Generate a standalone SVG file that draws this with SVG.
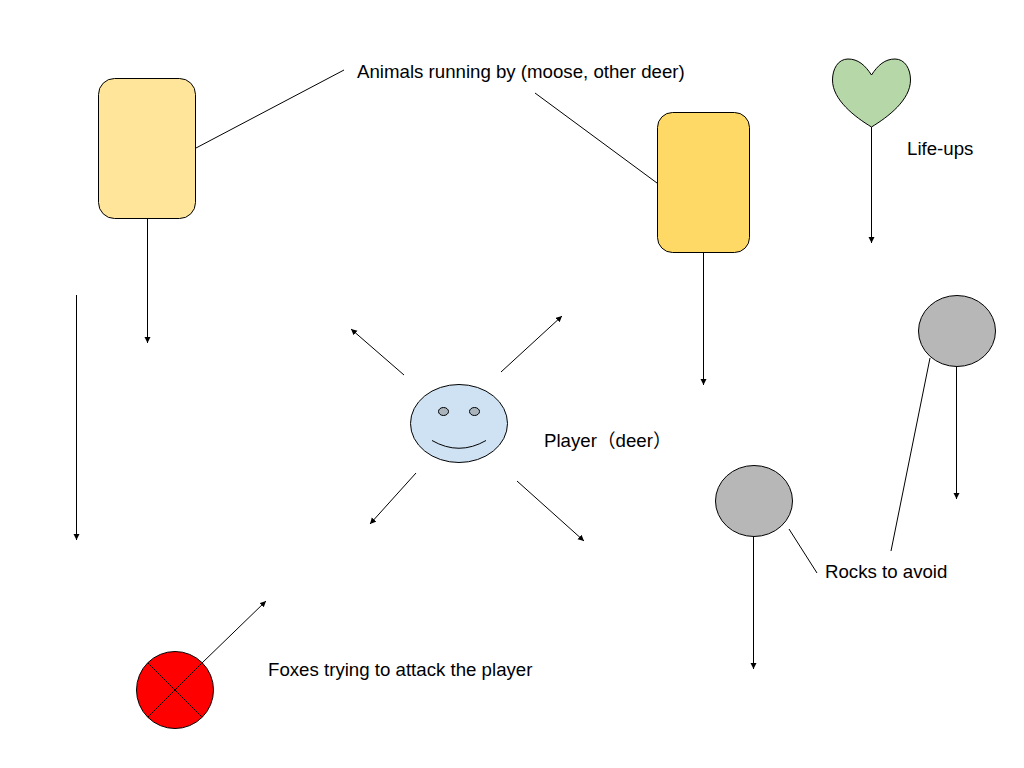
<svg xmlns="http://www.w3.org/2000/svg" width="1024" height="768" viewBox="0 0 1024 768">
<style>
text{font-family:"Liberation Sans",Arial,"Noto Sans CJK SC",sans-serif;font-size:18.667px;fill:#000}
.s{stroke:#000;stroke-width:1}
.c line{stroke:#000;stroke-width:1;fill:none}
.a{marker-end:url(#arr)}
</style>
<defs><marker id="arr" markerUnits="userSpaceOnUse" markerWidth="8" markerHeight="8" refX="6" refY="3" orient="auto"><path d="M0 0L6 3L0 6Z" fill="#000"/></marker></defs>
<rect width="1024" height="768" fill="#fff"/>
<g id="animal-left"><rect class="s" x="98.500" y="78.500" width="97" height="140" rx="16" fill="#ffe599"/></g>
<g id="animal-right"><rect class="s" x="657.500" y="112.500" width="92" height="140" rx="15" fill="#ffd966"/></g>
<g id="heart"><path class="s" d="M871.500 75C865 65 858 59 848 59C838 59 832.500 69 832.500 80C832.500 100 855 117 871.500 127C888 117 910.500 100 910.500 80C910.500 69 905 59 895 59C885 59 878 65 871.500 75Z" fill="#b6d7a8"/></g>
<g id="player"><ellipse class="s" cx="459" cy="423.500" rx="48.500" ry="39" fill="#cfe2f3"/><ellipse class="s" cx="443.500" cy="411.500" rx="5" ry="4" fill="#a9b4bd"/><ellipse class="s" cx="474.500" cy="411.500" rx="5" ry="4" fill="#a9b4bd"/><path class="s" d="M432 440.500Q459 456 486 440.500" fill="none"/></g>
<g id="rock-right"><ellipse class="s" cx="957" cy="331" rx="38.500" ry="35.500" fill="#b7b7b7"/></g>
<g id="rock-left"><ellipse class="s" cx="754" cy="501" rx="38.500" ry="35.500" fill="#b7b7b7"/></g>
<g id="fox"><circle class="s" cx="175" cy="690" r="38.500" fill="#f00"/><path class="s" d="M147.800 662.800L202.200 717.200M147.800 717.200L202.200 662.800" fill="none"/></g>
<g id="connectors" class="c">
<line x1="196" y1="148" x2="344" y2="70"/>
<line x1="535" y1="93" x2="657" y2="183"/>
<line class="a" x1="147.500" y1="219" x2="147.500" y2="343"/>
<line class="a" x1="76.500" y1="295" x2="76.500" y2="540"/>
<line class="a" x1="703.500" y1="253" x2="703.500" y2="385"/>
<line class="a" x1="871.500" y1="127" x2="871.500" y2="243"/>
<line class="a" x1="404" y1="375" x2="351" y2="329"/>
<line class="a" x1="501" y1="372" x2="562" y2="316"/>
<line class="a" x1="416" y1="473" x2="370" y2="524"/>
<line class="a" x1="517" y1="481" x2="584" y2="541"/>
<line class="a" x1="956.500" y1="367" x2="956.500" y2="499"/>
<line x1="930" y1="358" x2="891" y2="551"/>
<line class="a" x1="753.500" y1="537" x2="753.500" y2="669"/>
<line x1="789" y1="529" x2="817" y2="573"/>
<line class="a" x1="202" y1="663" x2="266" y2="601"/>
</g>
<text x="357" y="78">Animals running by (moose, other deer)</text>
<text x="907" y="155">Life-ups</text>
<text x="544" y="447">Player（deer）</text>
<text x="825" y="578">Rocks to avoid</text>
<text x="268" y="676">Foxes trying to attack the player</text>
</svg>
